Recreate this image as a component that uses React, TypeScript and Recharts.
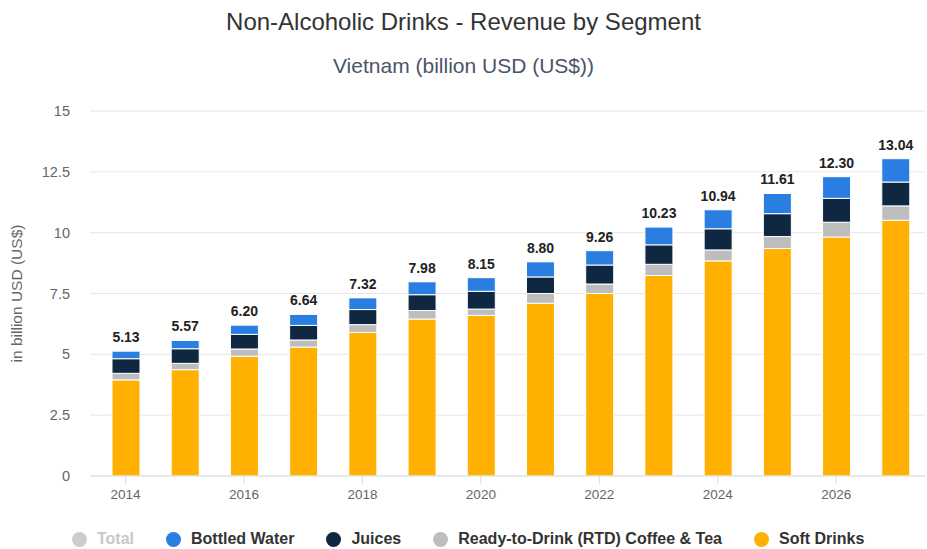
import {
  BarChart,
  Bar,
  XAxis,
  YAxis,
  CartesianGrid,
  LabelList,
} from "recharts";

// Values (billion USD)
const years = ["2014", "2015", "2016", "2017", "2018", "2019", "2020", "2021", "2022", "2023", "2024", "2025", "2026", "2027"];
const softDrinks = [3.95, 4.37, 4.92, 5.3, 5.9, 6.45, 6.6, 7.1, 7.5, 8.24, 8.84, 9.35, 9.82, 10.51];
const rtdCoffeeTea = [0.27, 0.26, 0.3, 0.29, 0.32, 0.35, 0.26, 0.4, 0.39, 0.46, 0.45, 0.49, 0.61, 0.59];
const juices = [0.6, 0.6, 0.6, 0.6, 0.62, 0.65, 0.73, 0.68, 0.78, 0.8, 0.87, 0.94, 0.98, 0.98];
const bottledWater = [0.31, 0.34, 0.38, 0.45, 0.48, 0.53, 0.56, 0.62, 0.59, 0.73, 0.78, 0.83, 0.89, 0.96];
const totals = [5.13, 5.57, 6.2, 6.64, 7.32, 7.98, 8.15, 8.8, 9.26, 10.23, 10.94, 11.61, 12.3, 13.04];
const yTicks = [0, 2.5, 5, 7.5, 10, 12.5, 15];

const FONT = "'Liberation Sans', Arial, Helvetica, sans-serif";

const COLORS = {
  total: "#cccccc",
  water: "#2a7de1",
  juices: "#0f2740",
  rtd: "#bdbdbd",
  soft: "#ffb000",
};

const legendItems = [
  { name: "Total", color: COLORS.total, muted: true },
  { name: "Bottled Water", color: COLORS.water },
  { name: "Juices", color: COLORS.juices },
  { name: "Ready-to-Drink (RTD) Coffee & Tea", color: COLORS.rtd },
  { name: "Soft Drinks", color: COLORS.soft },
];

const data = years.map((year, i) => ({
  year,
  soft: softDrinks[i],
  rtd: rtdCoffeeTea[i],
  juices: juices[i],
  water: bottledWater[i],
  total: totals[i],
}));

export default function App() {
  return (
    <div
      style={{
        position: "absolute",
        left: 0,
        top: 0,
        width: 927,
        height: 549,
        background: "#fff",
        overflow: "hidden",
        fontFamily: FONT,
      }}
    >
      <div
        style={{
          position: "absolute",
          top: 8,
          width: "100%",
          textAlign: "center",
          fontSize: 24,
          lineHeight: "28px",
          color: "#333",
        }}
      >
        Non-Alcoholic Drinks - Revenue by Segment
      </div>
      <div
        style={{
          position: "absolute",
          top: 54,
          width: "100%",
          textAlign: "center",
          fontSize: 21,
          lineHeight: "24px",
          color: "#4a5568",
        }}
      >
        Vietnam (billion USD (US$))
      </div>

      <BarChart
        width={927}
        height={549}
        data={data}
        margin={{ top: 111, right: 2, bottom: 43, left: 0 }}
        barSize={28}
        style={{ position: "absolute", left: 0, top: 0 }}
      >
        <CartesianGrid vertical={false} stroke="#e6e6e6" />
        <XAxis
          dataKey="year"
          interval={1}
          padding={{ left: 6, right: 0 }}
          axisLine={{ stroke: "#d6dbe3" }}
          tickLine={{ stroke: "#d6dbe3" }}
          tickSize={8}
          tickMargin={5}
          tick={{ fill: "#666", fontSize: 13.5, fontFamily: FONT }}
        />
        <YAxis
          width={90}
          domain={[0, 15]}
          ticks={yTicks}
          axisLine={false}
          tickLine={false}
          tickSize={0}
          tickMargin={20}
          tick={{ fill: "#666", fontSize: 14.5, fontFamily: FONT }}
          label={{
            value: "in billion USD (US$)",
            angle: -90,
            position: "insideLeft",
            offset: 16,
            style: { fill: "#666", fontSize: 15.5, fontFamily: FONT, textAnchor: "middle" },
          }}
        />
        <Bar dataKey="soft" stackId="a" fill={COLORS.soft} stroke="#fff" strokeWidth={1} isAnimationActive={false} />
        <Bar dataKey="rtd" stackId="a" fill={COLORS.rtd} stroke="#fff" strokeWidth={1} isAnimationActive={false} />
        <Bar dataKey="juices" stackId="a" fill={COLORS.juices} stroke="#fff" strokeWidth={1} isAnimationActive={false} />
        <Bar dataKey="water" stackId="a" fill={COLORS.water} stroke="#fff" strokeWidth={1} isAnimationActive={false}>
          <LabelList
            dataKey="total"
            position="top"
            offset={9}
            formatter={(v: number) => v.toFixed(2)}
            style={{ fill: "#222", fontSize: 14, fontWeight: 700, fontFamily: FONT }}
          />
        </Bar>
      </BarChart>

      {/* Legend */}
      <div
        style={{
          position: "absolute",
          top: 530,
          left: 72,
          display: "flex",
          alignItems: "center",
          gap: 32,
          fontSize: 16,
          lineHeight: "18px",
          fontWeight: 700,
        }}
      >
        {legendItems.map((item) => (
          <div key={item.name} style={{ display: "flex", alignItems: "center", gap: 10 }}>
            <span
              style={{
                display: "inline-block",
                width: 15,
                height: 15,
                borderRadius: "50%",
                background: item.color,
              }}
            />
            <span style={{ color: item.muted ? "#c8c8c8" : "#333" }}>{item.name}</span>
          </div>
        ))}
      </div>
    </div>
  );
}
